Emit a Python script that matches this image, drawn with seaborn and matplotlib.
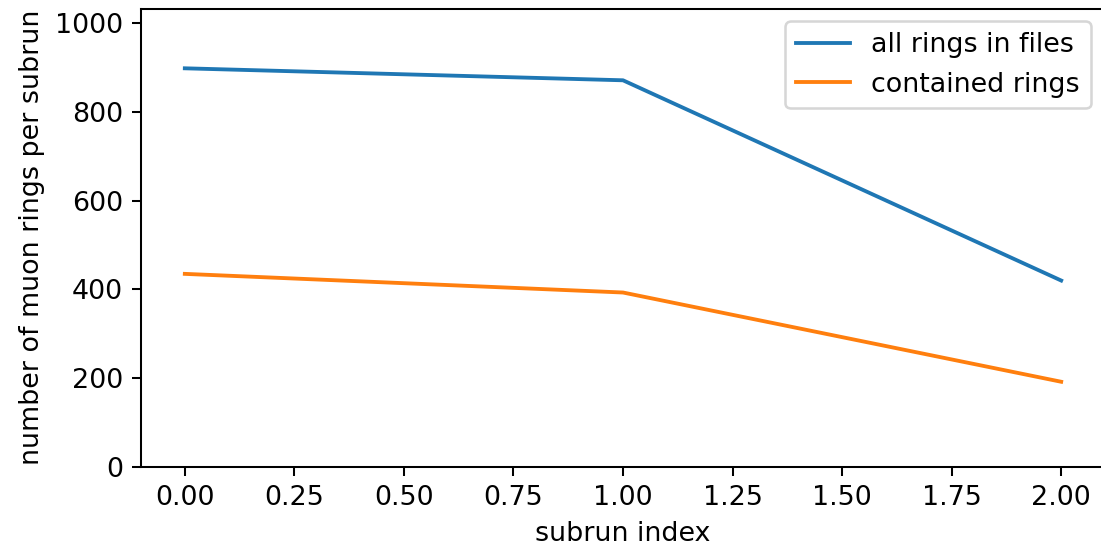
import numpy as np
import pandas as pd
import seaborn as sns
import matplotlib
matplotlib.use("Agg")
import matplotlib.pyplot as plt

# Values
subrun = [0, 1, 2]
all_rings = [898, 871, 420]
contained = [435, 393, 192]

df = pd.DataFrame({
    "subrun index": subrun * 2,
    "rings": all_rings + contained,
    "kind": ["all rings in files"] * 3 + ["contained rings"] * 3,
})

plt.rcParams["font.size"] = 10.5

dpi = 184
fig = plt.figure(figsize=(1101 / dpi, 548 / dpi), dpi=dpi)
# axes run a bit past the right edge, as in the cropped reference
ax = fig.add_axes([141 / 1101, (548 - 467) / 548, (1105 - 141) / 1101, (467 - 8.5) / 548])

sns.lineplot(data=df, x="subrun index", y="rings", hue="kind",
             palette=["#1f77b4", "#ff7f0e"], linewidth=1.5, ax=ax)
ax.set_ylim(0, max(all_rings) * 1.15)
ax.set_xticks(np.arange(0, 2.01, 0.25))
ax.set_xticklabels([f"{t:.2f}" for t in np.arange(0, 2.01, 0.25)])
ax.set_xlabel("subrun index")
ax.set_ylabel("number of muon rings per subrun")
ax.legend(title=None, loc="upper right", bbox_to_anchor=(1104 / 1101, 1 - 8 / 548),
          bbox_transform=fig.transFigure)

fig.savefig("out.png", dpi=dpi)
